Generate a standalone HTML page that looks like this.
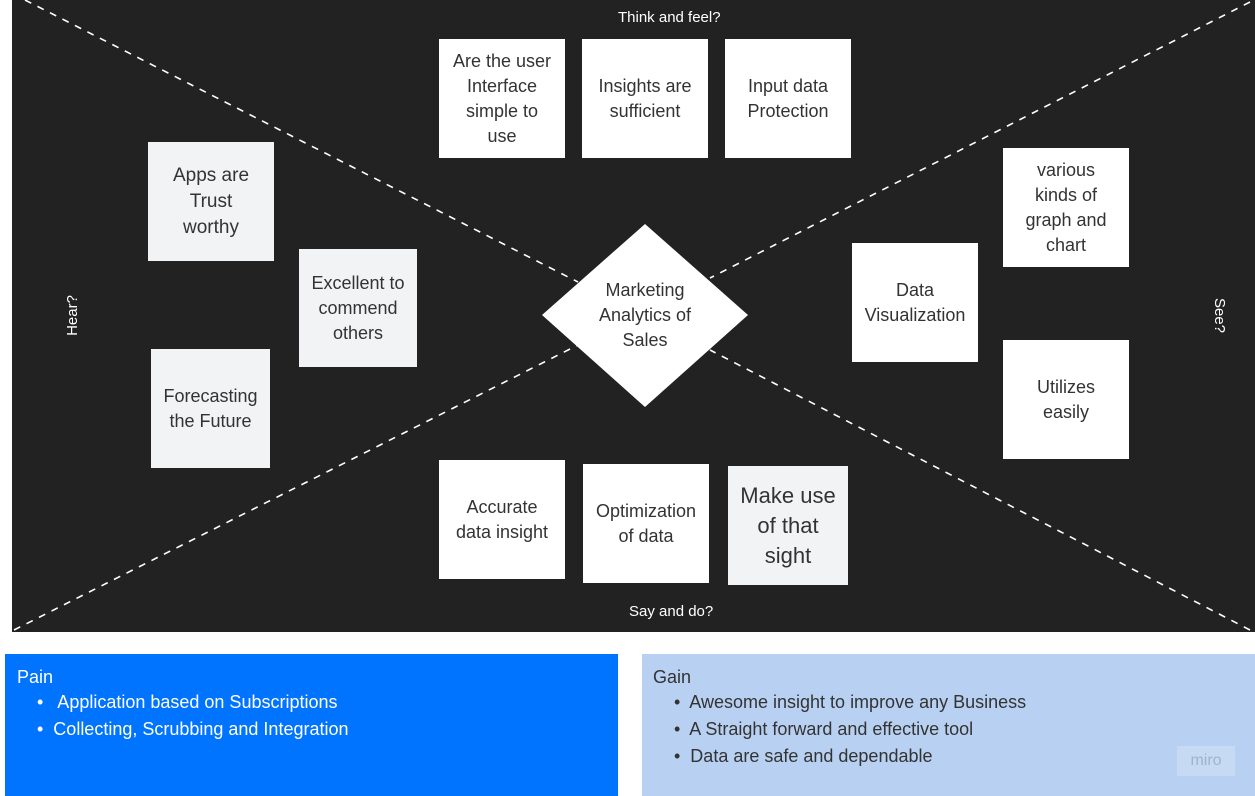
<!DOCTYPE html>
<html><head><style>
body{margin:0;width:1255px;height:796px;background:#fff;position:relative;overflow:hidden;font-family:"Liberation Sans","DejaVu Sans",sans-serif}
.bg{position:absolute;left:12px;top:0;width:1243px;height:632px;background:#222}
.n{position:absolute;display:flex;align-items:center;justify-content:center;text-align:center;color:#333;font-size:18px;line-height:25px;background:#fff}
.g{background:#f2f3f5}
.lab{position:absolute;color:#fff;font-size:15px}
.panel{position:absolute;font-size:18px}
.panel ul{margin:2px 0 0 0;padding-left:40px}
.panel li{margin:0 0 3px 0;line-height:24px}
</style></head><body>
<div class="bg"></div>
<svg style="position:absolute;left:0;top:0" width="1255" height="632">
<g stroke="#fff" stroke-width="1.6" stroke-dasharray="7,7">
<line x1="25" y1="0" x2="578" y2="282"/>
<line x1="14" y1="630" x2="578" y2="345"/>
<line x1="1250" y1="2" x2="710" y2="278"/>
<line x1="1250" y1="630" x2="710" y2="350"/>
</g>
<polygon points="645,224 748,315 645,407 542,315" fill="#fff"/>
</svg>
<div class="n" style="left:580px;top:265px;width:130px;height:100px;background:none">Marketing<br>Analytics of<br>Sales</div>
<div class="lab" style="left:618px;top:9px">Think and feel?</div>
<div class="lab" style="left:629px;top:603px">Say and do?</div>
<div class="lab" style="left:52px;top:307px;transform:rotate(-90deg)">Hear?</div>
<div class="lab" style="left:1202px;top:307px;transform:rotate(90deg)">See?</div>
<div class="n" style="left:439px;top:39px;width:126px;height:119px">Are the user<br>Interface<br>simple to<br>use</div>
<div class="n" style="left:582px;top:39px;width:126px;height:119px">Insights are<br>sufficient</div>
<div class="n" style="left:725px;top:39px;width:126px;height:119px">Input data<br>Protection</div>
<div class="n g" style="left:148px;top:142px;width:126px;height:119px;font-size:19px;line-height:26px">Apps are<br>Trust<br>worthy</div>
<div class="n g" style="left:299px;top:249px;width:118px;height:118px">Excellent to<br>commend<br>others</div>
<div class="n g" style="left:151px;top:349px;width:119px;height:119px">Forecasting<br>the Future</div>
<div class="n" style="left:1003px;top:148px;width:126px;height:119px">various<br>kinds of<br>graph and<br>chart</div>
<div class="n" style="left:852px;top:243px;width:126px;height:119px">Data<br>Visualization</div>
<div class="n" style="left:1003px;top:340px;width:126px;height:119px">Utilizes<br>easily</div>
<div class="n" style="left:439px;top:460px;width:126px;height:119px">Accurate<br>data insight</div>
<div class="n" style="left:583px;top:464px;width:126px;height:119px">Optimization<br>of data</div>
<div class="n g" style="left:728px;top:466px;width:120px;height:119px;font-size:22px;line-height:30px">Make use<br>of that<br>sight</div>
<div class="panel" style="left:5px;top:654px;width:613px;height:142px;background:#0073ff;color:#fff"><div style="padding:13px 0 0 12px">Pain</div>
<ul style="padding-left:32px;list-style:none"><li>•&nbsp;&nbsp; Application based on Subscriptions</li><li>•&nbsp; Collecting, Scrubbing and Integration</li></ul></div>
<div class="panel" style="left:642px;top:654px;width:613px;height:142px;background:#b8d1f2;color:#333"><div style="padding:13px 0 0 11px">Gain</div>
<ul style="padding-left:32px;list-style:none"><li>•&nbsp; Awesome insight to improve any Business</li><li>•&nbsp; A Straight forward and effective tool</li><li>•&nbsp; Data are safe and dependable</li></ul>
<div style="position:absolute;left:535px;top:92px;width:58px;height:30px;background:#c7daf3;color:#9fb3cc;font-size:16px;line-height:30px;text-align:center">miro</div></div>
</body></html>
